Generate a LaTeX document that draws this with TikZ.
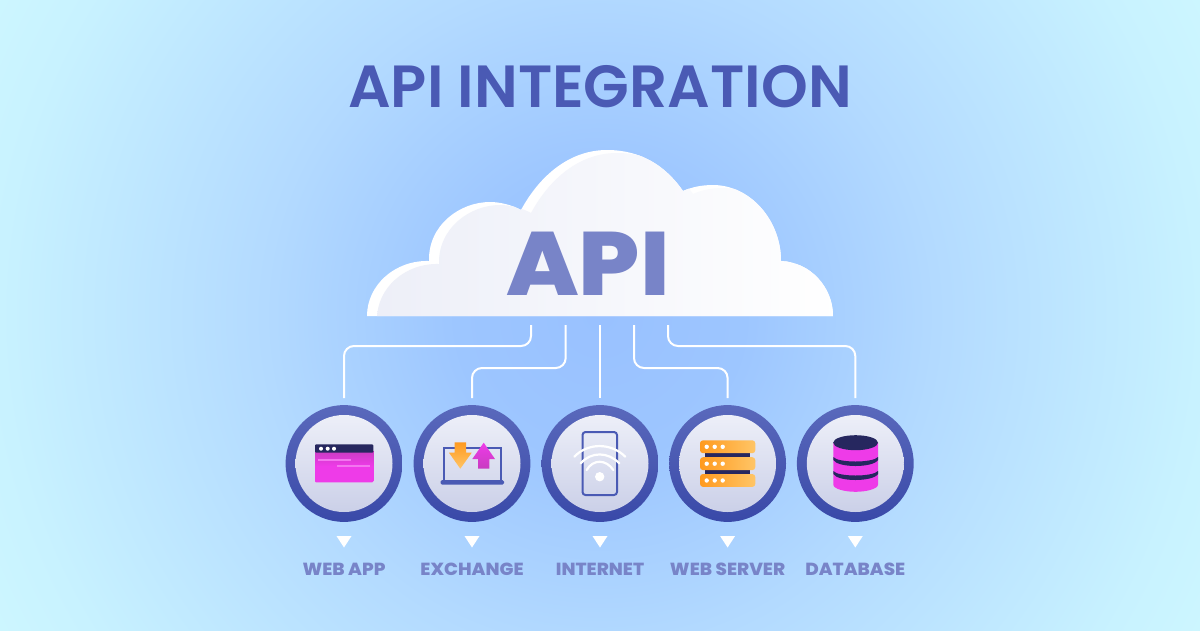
\documentclass[tikz,border=0pt]{standalone}
\usepackage{fontspec}
\setmainfont{Poppins}
\newfontfamily\headfont{Poppins SemiBold}
\newfontfamily\cloudfont[FakeStretch=1.07]{Poppins ExtraBold}
\newfontfamily\tagfont[FakeStretch=1.05]{Poppins ExtraBold}
\usepackage{tikz}
\usetikzlibrary{shadings}
\definecolor{glowmid}{HTML}{99C1FF}
\definecolor{glowa}{HTML}{9DC6FF}
\definecolor{glowb}{HTML}{B3DAFF}
\definecolor{glowc}{HTML}{C8F2FF}
\definecolor{glowd}{HTML}{CFF8FF}
\definecolor{titleblue}{HTML}{4A5AB4}
\definecolor{softblue}{HTML}{7884C8}
\definecolor{ringlow}{HTML}{3949A8}
\definecolor{ringhigh}{HTML}{5A69BC}
\definecolor{disclow}{HTML}{CBD0E8}
\definecolor{dischigh}{HTML}{EDEFF8}
\definecolor{navy}{HTML}{26275F}
\definecolor{pink}{HTML}{EE3BE8}
\definecolor{pinklow}{HTML}{C83CC0}
\definecolor{amber}{HTML}{FF9A1F}
\definecolor{amberlow}{HTML}{FFC566}
\pgfdeclareradialshading{bgglow}{\pgfpoint{0bp}{0bp}}{color(0bp)=(glowmid); color(6bp)=(glowa); color(14bp)=(glowb); color(25bp)=(glowc); color(30bp)=(glowd)}
\newcommand{\cloudpath}{(367,316) .. controls (367,285) and (395,260) .. (429,261)
	.. controls (428,225) and (460,202) .. (490,202) .. controls (500,202) and (512,205) .. (521,210)
	.. controls (540,175) and (570,150) .. (607,150) .. controls (640,150) and (665,165) .. (683,191)
	.. controls (692,187) and (702,185) .. (713,185) .. controls (750,185) and (781,220) .. (781,261)
	.. controls (810,262) and (833,287) .. (833,316) -- cycle}

\begin{document}
\begin{tikzpicture}[x=1pt,y=-1pt,
	ring/.style={circle,minimum size=116.8pt,inner sep=0pt,outer sep=7pt,shade,shading angle=-40,top color=ringhigh,bottom color=ringlow},
	disc/.style={circle,minimum size=97pt,inner sep=0pt,shade,shading angle=-30,top color=dischigh,bottom color=disclow},
	link/.style={draw=white,line width=2pt,rounded corners=10pt},
	caption/.style={anchor=base,text=softblue,font=\fontsize{17.5}{17.5}\tagfont},
	outline/.style={draw=titleblue,line width=2pt},
	wave/.style={draw=white,line width=2.2pt,line cap=round}]
	
	\useasboundingbox (0,0) rectangle (1200,630);
	\begin{scope}
		\clip (0,0) rectangle (1200,630);
		\shade[shading=bgglow] (0,-285) rectangle (1200,915);
	\end{scope}
	
	\node[anchor=base,text=titleblue,font=\fontsize{59.5}{60}\headfont] (title) at (600,107) {API INTEGRATION};
	
	% cloud
	\fill[white] \cloudpath;
	\begin{scope}
		\clip \cloudpath;
		\shade[left color=dischigh,right color=white,xshift=10pt,yshift=-3pt] \cloudpath;
	\end{scope}
	\node[anchor=base,text=softblue,font=\fontsize{90}{90}\cloudfont] (api) at (588,295) {API};
	
	\coordinate (tapa) at (531,325);
	\coordinate (tapb) at (565.7,325);
	\coordinate (tapc) at (600,325);
	\coordinate (tapd) at (634,325);
	\coordinate (tape) at (668,325);
	
	\foreach \name/\px/\tag in {webapp/344/WEB APP,exchange/472/EXCHANGE,internet/600/INTERNET,webserver/727.6/WEB SERVER,database/855.3/DATABASE}{
		\node[ring] (\name) at (\px,463.5) {};
		\node[disc] (\name in) at (\name) {};
		\fill[white] (\px-7.5,536) -- (\px+7.5,536) -- (\px,547.5) -- cycle;
		\node[caption] (\name tag) at (\px,575) {\tag};
	}
	
	\draw[link] (tapa) -- ++(0,21) -| (webapp.north);
	\draw[link] (tapb) -- ++(0,43) -| (exchange.north);
	\draw[link] (tapc) -- (internet.north);
	\draw[link] (tapd) -- ++(0,43) -| (webserver.north);
	\draw[link] (tape) -- ++(0,21) -| (database.north);
	
	% web app
	\shade[top color=pinklow,bottom color=pink,middle color=pink,rounded corners=1pt] (315,450) rectangle (373.3,482.3);
	\fill[navy,rounded corners=1pt] (315,444.3) rectangle (373.3,452.7);
	\foreach \dotx in {321,327.7,334}{
		\fill[white] (\dotx,448.7) circle (2);
	}
	\fill[pink!70!white] (318,459.3) rectangle (350.7,461.3);
	\fill[pink!70!white] (337,464.7) rectangle (370,466.7);
	
	% exchange
	\draw[outline] (443.5,480) -- (443.5,448.3) -- (500.5,448.3) -- (500.5,480);
	\fill[titleblue,rounded corners=1.5pt] (440.7,480) rectangle (504,484.7);
	\shade[top color=amber,bottom color=amberlow] (454.7,442.3) -- (466,442.3) -- (466,452.7) -- (471.7,452.7) -- (460.3,468.7) -- (449,452.7) -- (454.7,452.7) -- cycle;
	\shade[top color=pink,bottom color=pinklow] (483.7,442.7) -- (495,459) -- (489.3,459) -- (489.3,468.7) -- (478,468.7) -- (478,459) -- (472.3,459) -- cycle;
	
	% internet
	\draw[outline,rounded corners=3pt] (582.5,432) rectangle (617,495);
	\draw[wave] (574.3,456.7) .. controls (588,442.5) and (611,442.5) .. (625.3,456.7);
	\draw[wave] (580.7,463.3) .. controls (591,451.5) and (608,451.5) .. (619.3,463.3);
	\draw[wave] (586.7,470) .. controls (593,459) and (606,459) .. (613.3,470);
	\fill[white] (599.7,476.7) circle (4.7);
	
	% web server
	\fill[navy] (705.3,452) rectangle (750,475);
	\foreach \barY in {440.3,457.2,474}{
		\shade[left color=amber,right color=amberlow,rounded corners=3pt] (700,\barY) rectangle (755.3,\barY+12.9);
		\foreach \dotx in {706.7,714.7,722.7}{
			\fill[white] (\dotx,\barY+6.5) circle (2.2);
		}
	}
	
	% database
	\fill[pink] (833.3,442.7) -- (833.3,484.5) .. controls (833.3,489) and (845,491.8) .. (855.6,491.8) .. controls (866,491.8) and (878,489) .. (878,484.5) -- (878,442.7) -- cycle;
	\fill[navy] (855.6,442.7) ellipse (22.4 and 7.5);
	\fill[navy] (833.3,457) .. controls (838,463) and (873,463) .. (878,457) -- (878,460) .. controls (873,468) and (838,468) .. (833.3,460) -- cycle;
	\fill[navy] (833.3,471) .. controls (838,477) and (873,477) .. (878,471) -- (878,474) .. controls (873,482) and (838,482) .. (833.3,474) -- cycle;
\end{tikzpicture}
\end{document}
